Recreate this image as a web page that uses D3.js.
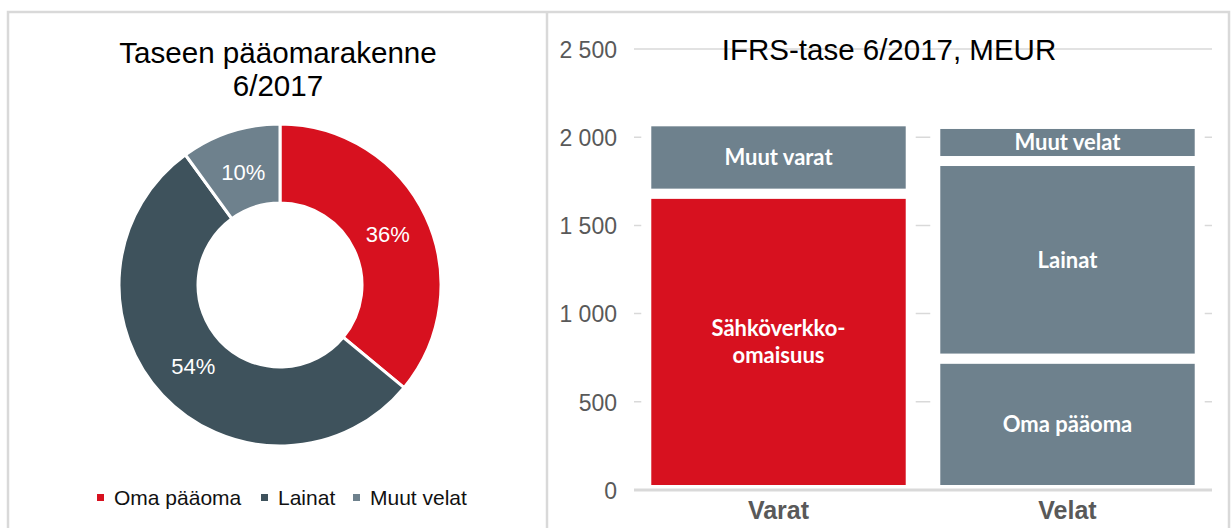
<!DOCTYPE html>
<html>
<head>
<meta charset="utf-8">
<script src="https://cdn.jsdelivr.net/npm/d3@7"></script>
<style>
  body { margin: 0; background: #fff; }
  svg { display: block; font-family: "Liberation Sans", Arial, sans-serif; }
</style>
</head>
<body>
<script>
// donut data (shares of the balance sheet)
let pieLabels = ["Oma pääoma", "Lainat", "Muut velat"]
let pieValues = [36, 54, 10]
let pieColors = ["#d7111f", "#3e525c", "#6e818d"]

// bar data, MEUR
let barCategories = ["Varat", "Velat"]
let varatSegments = ["Sähköverkko-\nomaisuus", "Muut varat"]
let varatValues = [1680, 410]
let velatSegments = ["Oma pääoma", "Lainat", "Muut velat"]
let velatValues = [745, 1120, 210]
let yTicks = [0, 500, 1000, 1500, 2000, 2500]

let width = 1232, height = 528
let svg = d3.select("body").append("svg")
  .attr("width", width)
  .attr("height", height)

// frame round the two panels
let frameColor = "#d9d9d9"
svg.append("path")
  .attr("d", "M8,540 V12 H1229 V540 M547,12 V540")
  .attr("fill", "none")
  .attr("stroke", frameColor)
  .attr("stroke-width", 2.5)

/********** left panel: donut **********/
let left = svg.append("g")

left.append("text")
  .attr("x", 278).attr("y", 63)
  .attr("text-anchor", "middle")
  .attr("font-size", 29.6)
  .text("Taseen pääomarakenne")
left.append("text")
  .attr("x", 278).attr("y", 96)
  .attr("text-anchor", "middle")
  .attr("font-size", 29.6)
  .text("6/2017")

let cx = 280, cy = 285
let pie = d3.pie().sort(null)(pieValues)
let arc = d3.arc().innerRadius(82).outerRadius(161)
let labelArc = d3.arc().innerRadius(119).outerRadius(119)

let donut = left.append("g").attr("transform", `translate(${cx},${cy})`)
donut.selectAll("path")
  .data(pie)
  .join("path")
  .attr("d", arc)
  .attr("fill", (d, i) => pieColors[i])
  .attr("stroke", "#fff")
  .attr("stroke-width", 3)

donut.selectAll("text")
  .data(pie)
  .join("text")
  .attr("transform", d => `translate(${labelArc.centroid(d)})`)
  .attr("text-anchor", "middle")
  .attr("dy", "0.36em")
  .attr("font-size", 22)
  .attr("fill", "#fff")
  .text(d => d.data + "%")

// legend
let legendX = [97, 261, 353]
let legend = left.append("g")
pieLabels.forEach((name, i) => {
  legend.append("rect")
    .attr("x", legendX[i]).attr("y", 494)
    .attr("width", 7).attr("height", 7)
    .attr("fill", pieColors[i])
  legend.append("text")
    .attr("x", legendX[i] + 17).attr("y", 505)
    .attr("font-size", 21)
    .attr("fill", "#111")
    .text(name)
})

/********** right panel: stacked bars **********/
let right = svg.append("g")

let x = d3.scaleBand()
  .domain(barCategories)
  .range([634, 1212])
  .paddingInner(0.085)
  .paddingOuter(0.0425)
let y = d3.scaleLinear().domain([0, 2500]).range([490, 49])

// gridlines (bars cover most of them)
right.append("g")
  .selectAll("line")
  .data(yTicks.filter(t => t > 0))
  .join("line")
  .attr("x1", 634).attr("x2", 1212)
  .attr("y1", d => y(d)).attr("y2", d => y(d))
  .attr("stroke", frameColor)
  .attr("stroke-width", 1.5)

// y axis labels
let yAxis = d3.axisLeft(y)
  .tickValues(yTicks)
  .tickSize(0)
  .tickPadding(0)
  .tickFormat(d => d3.format(",")(d).replace(",", " "))
right.append("g")
  .attr("transform", "translate(617,0)")
  .call(yAxis)
  .call(g => g.select(".domain").remove())
  .call(g => g.selectAll("text")
    .attr("font-size", 23)
    .attr("font-family", "Liberation Sans, Arial, sans-serif")
    .attr("fill", "#595959")
    .attr("dy", "0.36em"))

right.append("text")
  .attr("x", 889).attr("y", 60)
  .attr("text-anchor", "middle")
  .attr("font-size", 29.5)
  .text("IFRS-tase 6/2017, MEUR")

// stack each category
function stackSegments(names, values, colors) {
  let base = 0
  return values.map((v, i) => {
    let seg = { name: names[i], y0: base, y1: base + v, color: colors[i] }
    base += v
    return seg
  })
}
let bars = [
  { cat: "Varat", segs: stackSegments(varatSegments, varatValues, ["#d7111f", "#6e818d"]) },
  { cat: "Velat", segs: stackSegments(velatSegments, velatValues, ["#6e818d", "#6e818d", "#6e818d"]) }
]

bars.forEach(bar => {
  let g = right.append("g")
  g.selectAll("rect")
    .data(bar.segs)
    .join("rect")
    .attr("x", x(bar.cat))
    .attr("width", x.bandwidth())
    .attr("y", d => y(d.y1))
    .attr("height", d => y(d.y0) - y(d.y1))
    .attr("fill", d => d.color)
    .attr("stroke", "#fff")
    .attr("stroke-width", 10)

  bar.segs.forEach(d => {
    let lines = d.name.split("\n")
    let midY = (y(d.y0) + y(d.y1)) / 2
    let t = g.append("text")
      .attr("x", x(bar.cat) + x.bandwidth() / 2)
      .attr("y", midY - (lines.length - 1) * 13.5)
      .attr("text-anchor", "middle")
      .attr("font-family", "Lato, sans-serif")
      .attr("font-weight", 700)
      .attr("font-size", 22)
      .attr("fill", "#fff")
    lines.forEach((line, i) => {
      t.append("tspan")
        .attr("x", x(bar.cat) + x.bandwidth() / 2)
        .attr("dy", i == 0 ? "0.36em" : 27)
        .text(line)
    })
  })
})

// zero line
right.append("line")
  .attr("x1", 634).attr("x2", 1212)
  .attr("y1", y(0)).attr("y2", y(0))
  .attr("stroke", frameColor)
  .attr("stroke-width", 3)

// category labels
right.selectAll(".cat")
  .data(barCategories)
  .join("text")
  .attr("class", "cat")
  .attr("x", d => x(d) + x.bandwidth() / 2)
  .attr("y", 519)
  .attr("text-anchor", "middle")
  .attr("font-family", "Liberation Sans Narrow, Arial Narrow, sans-serif")
  .attr("font-weight", 700)
  .attr("font-size", 25)
  .attr("fill", "#595959")
  .text(d => d)
</script>
</body>
</html>
